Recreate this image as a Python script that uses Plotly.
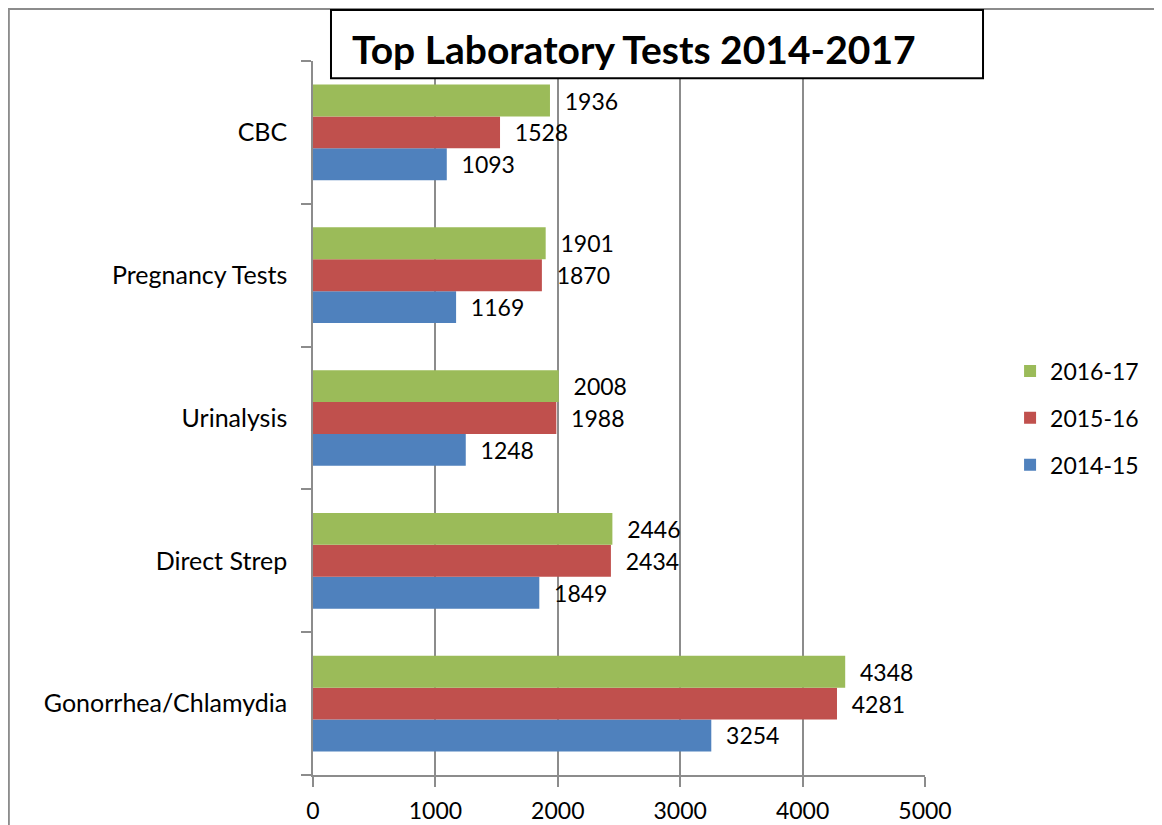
import plotly.graph_objects as go

# categories listed bottom to top, as plotted
categories = ["Gonorrhea/Chlamydia", "Direct Strep", "Urinalysis", "Pregnancy Tests", "CBC"]
tests_2014_15 = [3254, 1849, 1248, 1169, 1093]
tests_2015_16 = [4281, 2434, 1988, 1870, 1528]
tests_2016_17 = [4348, 2446, 2008, 1901, 1936]
x_ticks = [0, 1000, 2000, 3000, 4000, 5000]

series = [
    ("2014-15", tests_2014_15, "#4F81BD", 3),
    ("2015-16", tests_2015_16, "#C0504D", 2),
    ("2016-17", tests_2016_17, "#9BBB59", 1),
]

font_name = "Lato, Open Sans, sans-serif"

fig = go.Figure()
for name, vals, color, rank in series:
    fig.add_trace(go.Bar(
        y=categories,
        x=vals,
        name=name,
        orientation="h",
        marker=dict(color=color, line=dict(width=0)),
        text=vals,
        texttemplate="  %{text}",
        textposition="outside",
        textfont=dict(size=23, color="black", family=font_name),
        cliponaxis=False,
        legendgroup=name,
        legendrank=rank,
    ))

fig.update_layout(
    width=1154,
    height=817,
    margin=dict(l=305, r=237, t=53, b=50, autoexpand=False),
    paper_bgcolor="white",
    plot_bgcolor="white",
    barmode="group",
    bargap=0.33,
    bargroupgap=0,
    font=dict(family=font_name, size=23, color="black"),
    showlegend=True,
    legend=dict(
        x=1.139, y=0.5, xanchor="left", yanchor="middle",
        traceorder="grouped",
        tracegroupgap=14,
        font=dict(size=23, family=font_name),
        itemwidth=30,
    ),
    xaxis=dict(
        range=[0, 5000],
        tickvals=x_ticks,
        automargin=False,
        showgrid=True,
        gridcolor="#8c8c8c",
        gridwidth=1.5,
        zeroline=False,
        ticks="outside",
        ticklen=10,
        tickcolor="#8c8c8c",
        tickwidth=1.5,
        showline=True,
        linecolor="#8c8c8c",
        linewidth=1.5,
        tickfont=dict(size=23),
        ticklabelstandoff=5,
    ),
    yaxis=dict(
        categoryorder="array",
        categoryarray=categories,
        automargin=False,
        tickson="boundaries",
        ticks="outside",
        ticklen=10,
        tickcolor="#8c8c8c",
        tickwidth=1.5,
        showgrid=False,
        showline=True,
        linecolor="#8c8c8c",
        linewidth=1.5,
        tickfont=dict(size=25),
        ticklabelstandoff=19,
    ),
    shapes=[
        # outer chart border
        dict(type="rect", xref="paper", yref="paper",
             x0=-0.497, x1=1.384, y0=-0.2, y1=1.0728,
             line=dict(color="#8c8c8c", width=2), layer="below"),
        # title box
        dict(type="rect", xref="paper", yref="paper",
             x0=0.0294, x1=1.0948, y0=0.976, y1=1.0714,
             line=dict(color="black", width=2), fillcolor="white"),
    ],
    annotations=[
        dict(text="<b>Top Laboratory Tests 2014-2017</b>",
             xref="paper", yref="paper", x=0.06, y=1.017,
             xanchor="left", yanchor="middle", showarrow=False,
             font=dict(size=39, family=font_name, color="black")),
    ],
)

fig.write_html("out.html")
